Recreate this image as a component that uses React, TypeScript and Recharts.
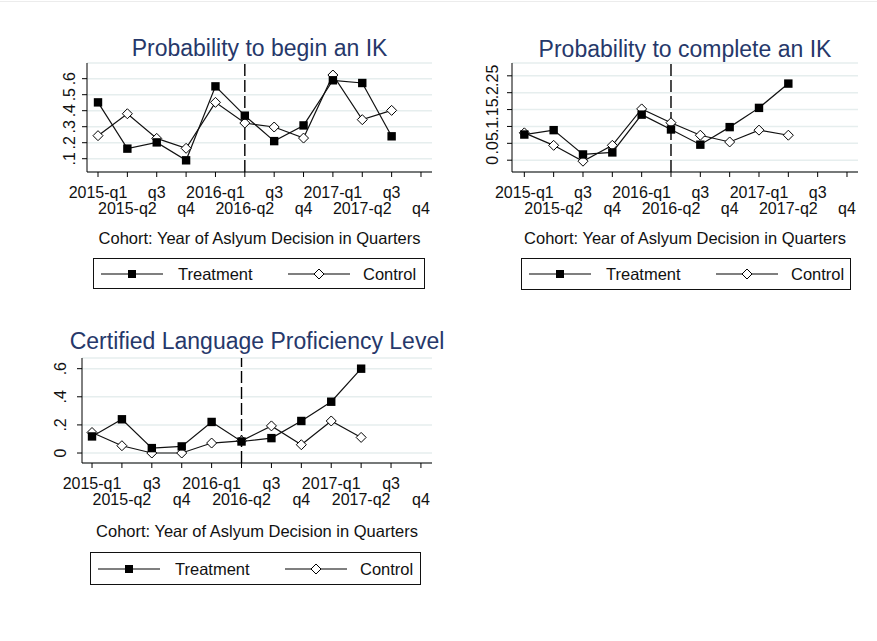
import React from "react";
import { CartesianGrid, Line, LineChart, ReferenceLine, XAxis, YAxis } from "recharts";

// cohort quarters, labels alternate over two rows like Stata does
const quarters = ["2015-q1", "2015-q2", "q3", "q4", "2016-q1", "2016-q2", "q3", "q4", "2017-q1", "2017-q2", "q3", "q4"];
const quarterIdx = [0, 1, 2, 3, 4, 5, 6, 7, 8, 9, 10, 11];

const beginTreatment = [0.452, 0.163, 0.202, 0.09, 0.552, 0.369, 0.21, 0.308, 0.59, 0.573, 0.24, null];
const beginControl = [0.244, 0.381, 0.227, 0.165, 0.452, 0.323, 0.298, 0.229, 0.623, 0.344, 0.402, null];
const beginTicks = [0.1, 0.2, 0.3, 0.4, 0.5, 0.6];
const beginTickLabels = [".1", ".2", ".3", ".4", ".5", ".6"];

const completeTreatment = [0.076, 0.089, 0.017, 0.023, 0.135, 0.091, 0.046, 0.098, 0.155, 0.227, null, null];
const completeControl = [0.081, 0.044, -0.003, 0.044, 0.152, 0.111, 0.074, 0.054, 0.089, 0.074, null, null];
const completeTicks = [0, 0.05, 0.1, 0.15, 0.2, 0.25];
const completeTickLabels = ["0", ".05", ".1", ".15", ".2", ".25"];

const langTreatment = [0.118, 0.24, 0.035, 0.047, 0.221, 0.082, 0.106, 0.228, 0.365, 0.6, null, null];
const langControl = [0.146, 0.052, 0, 0, 0.071, 0.087, 0.193, 0.059, 0.228, 0.111, null, null];
const langTicks = [0, 0.2, 0.4, 0.6];
const langTickLabels = ["0", ".2", ".4", ".6"];

const cutoffQuarter = 5; // 2016-q2

const FONT = '"Liberation Sans", Arial, sans-serif';
const TITLE_COLOR = "#26386a";
const TEXT_COLOR = "#111";
const GRID = "#e6eeee";
const YW = 60;
const MT = 10;
const MR = 10;
const XH = 50;

type PanelProps = {
  title: string;
  treatment: (number | null)[];
  control: (number | null)[];
  yTicks: number[];
  yLabels: string[];
  yDomain: [number, number];
  xDomain: [number, number];
  plot: { x0: number; x1: number; y0: number; y1: number };
  yLabelGap: number;
  titleY: number;
  axisTitleY: number;
  legend: { x0: number; x1: number; y0: number; y1: number };
};

function SquareDot(props: any) {
  const { cx, cy, index } = props;
  if (cx == null || cy == null) return <g key={"s" + index} />;
  return <rect key={"s" + index} x={cx - 4.2} y={cy - 4.2} width={8.4} height={8.4} fill="#000" />;
}

function DiamondDot(props: any) {
  const { cx, cy, index } = props;
  if (cx == null || cy == null) return <g key={"d" + index} />;
  const r = 5;
  return (
    <path
      key={"d" + index}
      d={`M${cx},${cy - r}L${cx + r},${cy}L${cx},${cy + r}L${cx - r},${cy}Z`}
      fill="#fff"
      stroke="#000"
      strokeWidth={1}
    />
  );
}

function LegendKey({ kind }: { kind: "square" | "diamond" }) {
  return (
    <svg width={62} height={14} style={{ display: "block" }}>
      <line x1={0} y1={7} x2={62} y2={7} stroke="#000" strokeWidth={1.2} />
      {kind === "square" ? (
        <rect x={27} y={3} width={8} height={8} fill="#000" />
      ) : (
        <path d="M31,2L36,7L31,12L26,7Z" fill="#fff" stroke="#000" />
      )}
    </svg>
  );
}

function Panel(p: PanelProps) {
  const pw = p.plot.x1 - p.plot.x0;
  const ph = p.plot.y1 - p.plot.y0;
  const width = pw + YW + MR;
  const height = ph + MT + XH;
  const bottom = MT + ph;
  const data = quarterIdx.map((i) => ({ i, t: p.treatment[i], c: p.control[i] }));

  const xTick = (props: any) => {
    const { x, payload } = props;
    const i = payload.value as number;
    const dy = i % 2 === 0 ? 20 : 36;
    return (
      <text x={x} y={bottom + dy} textAnchor="middle" dominantBaseline="central" fontSize={16} fill={TEXT_COLOR} fontFamily={FONT}>
        {quarters[i]}
      </text>
    );
  };

  const yTick = (props: any) => {
    const { y, payload } = props;
    const k = p.yTicks.indexOf(payload.value);
    const x = YW - p.yLabelGap;
    return (
      <text
        x={x}
        y={y}
        transform={`rotate(-90, ${x}, ${y})`}
        textAnchor="middle"
        dominantBaseline="central"
        fontSize={16}
        fill={TEXT_COLOR}
        fontFamily={FONT}
      >
        {k >= 0 ? p.yLabels[k] : ""}
      </text>
    );
  };

  const cx = (p.plot.x0 + p.plot.x1) / 2;

  return (
    <>
      <div
        style={{
          position: "absolute",
          left: cx - 250,
          width: 500,
          top: p.titleY - 14,
          height: 28,
          lineHeight: "28px",
          textAlign: "center",
          fontSize: 23,
          color: TITLE_COLOR,
          fontFamily: FONT,
          whiteSpace: "nowrap",
        }}
      >
        {p.title}
      </div>
      <div style={{ position: "absolute", left: p.plot.x0 - YW, top: p.plot.y0 - MT }}>
        <LineChart width={width} height={height} data={data} margin={{ top: MT, right: MR, bottom: 0, left: 0 }}>
          <CartesianGrid horizontal vertical={false} stroke={GRID} strokeWidth={1.5} />
          <XAxis
            type="number"
            dataKey="i"
            domain={p.xDomain}
            ticks={quarterIdx}
            interval={0}
            allowDataOverflow
            height={XH}
            tickSize={5}
            axisLine={{ stroke: "#000" }}
            tickLine={{ stroke: "#000" }}
            tick={xTick}
          />
          <YAxis
            type="number"
            domain={p.yDomain}
            ticks={p.yTicks}
            interval={0}
            allowDataOverflow
            width={YW}
            tickSize={5}
            axisLine={{ stroke: "#000" }}
            tickLine={{ stroke: "#000" }}
            tick={yTick}
          />
          <ReferenceLine x={cutoffQuarter} stroke="#000" strokeWidth={1.4} strokeDasharray="12 4" />
          <Line
            type="linear"
            dataKey="c"
            stroke="#111"
            strokeWidth={1.2}
            dot={DiamondDot}
            activeDot={false}
            isAnimationActive={false}
          />
          <Line
            type="linear"
            dataKey="t"
            stroke="#111"
            strokeWidth={1.2}
            dot={SquareDot}
            activeDot={false}
            isAnimationActive={false}
          />
        </LineChart>
      </div>
      <div
        style={{
          position: "absolute",
          left: cx - 250,
          width: 500,
          top: p.axisTitleY - 10,
          height: 20,
          lineHeight: "20px",
          textAlign: "center",
          fontSize: 16.5,
          color: TEXT_COLOR,
          fontFamily: FONT,
          whiteSpace: "nowrap",
        }}
      >
        Cohort: Year of Aslyum Decision in Quarters
      </div>
      <div
        style={{
          position: "absolute",
          left: p.legend.x0,
          top: p.legend.y0,
          width: p.legend.x1 - p.legend.x0,
          height: p.legend.y1 - p.legend.y0,
          border: "1.5px solid #111",
          boxSizing: "border-box",
          fontFamily: FONT,
          fontSize: 16.5,
          color: TEXT_COLOR,
        }}
      >
        <div style={{ position: "absolute", left: 7, top: "50%", marginTop: -7 }}>
          <LegendKey kind="square" />
        </div>
        <div style={{ position: "absolute", left: 84, top: "50%", marginTop: -10, lineHeight: "20px", whiteSpace: "nowrap" }}>
          Treatment
        </div>
        <div style={{ position: "absolute", left: 194, top: "50%", marginTop: -7 }}>
          <LegendKey kind="diamond" />
        </div>
        <div style={{ position: "absolute", left: 269, top: "50%", marginTop: -10, lineHeight: "20px", whiteSpace: "nowrap" }}>
          Control
        </div>
      </div>
    </>
  );
}

export default function App() {
  return (
    <div style={{ position: "absolute", left: 0, top: 0, width: 877, height: 641, background: "#fff" }}>
      <div style={{ position: "absolute", left: 0, top: 1, width: 877, height: 1, background: "#ececec" }} />
      <Panel
        title="Probability to begin an IK"
        treatment={beginTreatment}
        control={beginControl}
        yTicks={beginTicks}
        yLabels={beginTickLabels}
        yDomain={[0.017, 0.698]}
        xDomain={[-0.375, 11.375]}
        plot={{ x0: 87, x1: 432, y0: 63, y1: 172 }}
        yLabelGap={17}
        titleY={48}
        axisTitleY={238}
        legend={{ x0: 93, x1: 425, y0: 258, y1: 289 }}
      />
      <Panel
        title="Probability to complete an IK"
        treatment={completeTreatment}
        control={completeControl}
        yTicks={completeTicks}
        yLabels={completeTickLabels}
        yDomain={[-0.035, 0.288]}
        xDomain={[-0.42, 11.375]}
        plot={{ x0: 512, x1: 858, y0: 63, y1: 172 }}
        yLabelGap={19}
        titleY={49}
        axisTitleY={238}
        legend={{ x0: 521, x1: 851, y0: 258, y1: 290 }}
      />
      <Panel
        title="Certified Language Proficiency Level"
        treatment={langTreatment}
        control={langControl}
        yTicks={langTicks}
        yLabels={langTickLabels}
        yDomain={[-0.071, 0.676]}
        xDomain={[-0.335, 11.37]}
        plot={{ x0: 82, x1: 432, y0: 358, y1: 463 }}
        yLabelGap={21}
        titleY={341}
        axisTitleY={531}
        legend={{ x0: 90, x1: 421, y0: 552, y1: 585 }}
      />
    </div>
  );
}
